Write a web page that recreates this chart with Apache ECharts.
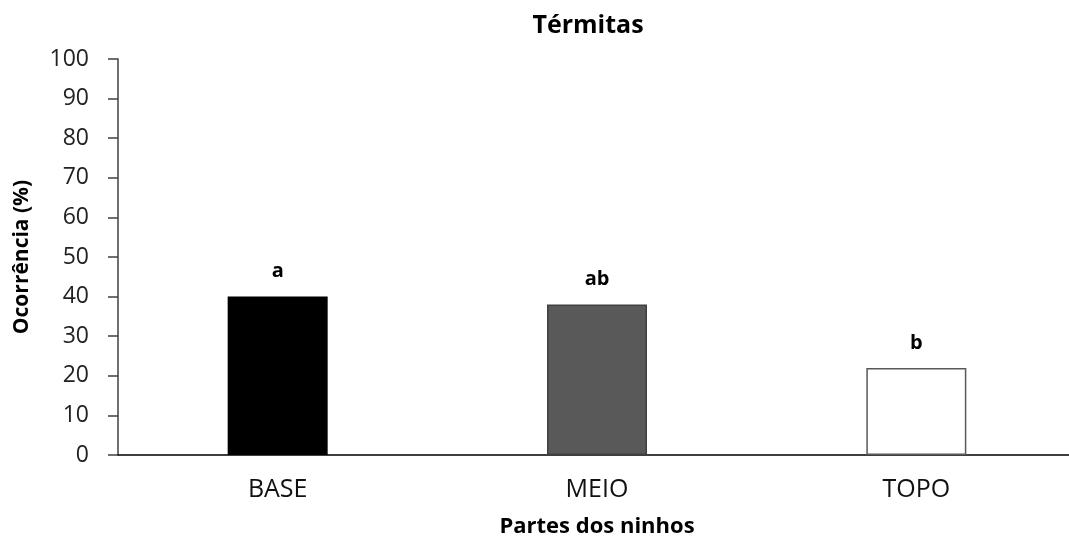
<!DOCTYPE html>
<html><head><meta charset="utf-8">
<script src="https://cdn.jsdelivr.net/npm/echarts@6/dist/echarts.min.js"></script>
<style>html,body{margin:0;padding:0;background:#fff}#c{width:1069px;height:540px}</style>
</head><body><div id="c"></div>
<script>
const categories = ['BASE', 'MEIO', 'TOPO'];
const values = [40, 38, 22];
const letters = ['a', 'ab', 'b'];
const yTicks = [0, 10, 20, 30, 40, 50, 60, 70, 80, 90, 100];

const fills = ['#000000', '#595959', '#ffffff'];
const borders = ['#000000', '#404040', '#595959'];
const F = '"Open Sans", sans-serif';

const chart = echarts.init(document.getElementById('c'), null, {renderer: 'canvas'});
chart.setOption({
  animation: false,
  backgroundColor: '#fff',
  title: {
    text: 'Térmitas', left: 583, top: 8, textAlign: 'center',
    textStyle: {fontFamily: F, fontSize: 25, fontWeight: 'bold', color: '#000'}
  },
  grid: {left: 118, top: 59, width: 958, height: 396, containLabel: false, outerBoundsMode: 'none'},
  xAxis: {
    type: 'category', data: categories,
    axisLine: {lineStyle: {color: '#000', width: 1.5}},
    axisTick: {show: false},
    axisLabel: {fontFamily: F, fontSize: 25, color: '#111', margin: 22},
    name: 'Partes dos ninhos', nameLocation: 'middle', nameGap: 61,
    nameTextStyle: {fontFamily: F, fontSize: 22, fontWeight: 'bold', color: '#000'}
  },
  yAxis: {
    type: 'value', min: yTicks[0], max: yTicks[yTicks.length - 1], interval: 10,
    splitLine: {show: false},
    axisLine: {show: true, lineStyle: {color: '#404040', width: 1.5}},
    axisTick: {show: true, length: 10, lineStyle: {color: '#404040', width: 1.5}},
    axisLabel: {fontFamily: F, fontSize: 23, color: '#222', margin: 29},
    name: 'Ocorrência (%)', nameLocation: 'middle', nameGap: 85,
    nameTextStyle: {fontFamily: F, fontSize: 21, fontWeight: 'bold', color: '#000'}
  },
  series: [{
    type: 'bar', barWidth: 100,
    data: values.map((v, i) => ({
      value: v,
      itemStyle: {color: fills[i], borderColor: borders[i], borderWidth: 1.5},
      label: {show: true, position: 'top', distance: 15, formatter: letters[i],
        fontFamily: F, fontSize: 20, fontWeight: 'bold', color: '#000'}
    }))
  }]
});
</script></body></html>
